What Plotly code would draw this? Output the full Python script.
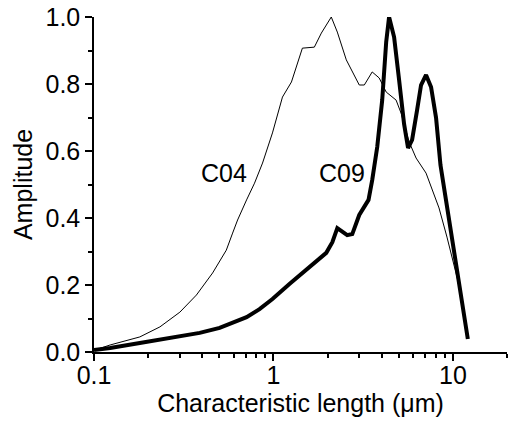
import math
import plotly.graph_objects as go

# C04 (thin line) — characteristic length (µm) and amplitude
c04_x = [0.100, 0.123, 0.180, 0.233, 0.301, 0.372, 0.458, 0.546, 0.592, 0.631, 0.708,
         0.784, 0.869, 0.987, 1.122, 1.259, 1.449, 1.689, 1.848, 2.099, 2.268, 2.545,
         3.005, 3.206, 3.548, 3.881, 4.245, 4.82, 5.14, 5.70, 6.23, 7.08, 8.36, 9.26,
         10.8, 12.1]
c04_y = [0.005, 0.021, 0.045, 0.075, 0.119, 0.170, 0.236, 0.304, 0.355, 0.394, 0.454,
         0.504, 0.564, 0.654, 0.761, 0.806, 0.907, 0.910, 0.952, 1.000, 0.955, 0.872,
         0.797, 0.797, 0.836, 0.818, 0.776, 0.752, 0.713, 0.627, 0.579, 0.534, 0.430,
         0.343, 0.200, 0.039]

# C09 (thick line)
c09_x = [0.100, 0.123, 0.180, 0.264, 0.388, 0.501, 0.592, 0.708, 0.836, 0.987, 1.227,
         1.449, 1.733, 1.968, 2.128, 2.268, 2.576, 2.748, 3.005, 3.384, 3.548, 3.784,
         4.034, 4.245, 4.406, 4.699, 5.01, 5.34, 5.62, 5.92, 6.31, 6.64, 7.08, 7.55,
         8.05, 8.52, 9.14, 10.8, 12.1]
c09_y = [0.006, 0.012, 0.027, 0.042, 0.057, 0.072, 0.087, 0.104, 0.128, 0.158, 0.203,
         0.236, 0.272, 0.296, 0.328, 0.370, 0.349, 0.352, 0.409, 0.454, 0.513, 0.612,
         0.752, 0.925, 1.000, 0.940, 0.812, 0.681, 0.609, 0.633, 0.722, 0.797, 0.827,
         0.791, 0.699, 0.558, 0.454, 0.215, 0.039]

labels = ["C04", "C09"]
label_x = [0.527, 2.42]
label_y = [0.534, 0.534]

x_major = [0.1, 1, 10]
x_major_text = ["0.1", "1", "10"]
x_minor = [0.2, 0.3, 0.4, 0.5, 0.6, 0.7, 0.8, 0.9, 2, 3, 4, 5, 6, 7, 8, 9, 20]
y_major = [0.0, 0.2, 0.4, 0.6, 0.8, 1.0]
y_major_text = ["0.0", "0.2", "0.4", "0.6", "0.8", "1.0"]
y_minor = [0.1, 0.3, 0.5, 0.7, 0.9]

FONT = "Liberation Sans, Arial, sans-serif"
FS = 25

fig = go.Figure()
fig.add_trace(go.Scatter(x=c04_x, y=c04_y, mode="lines",
                         line=dict(color="black", width=1), showlegend=False))
fig.add_trace(go.Scatter(x=c09_x, y=c09_y, mode="lines",
                         line=dict(color="black", width=4), showlegend=False))

for t, lx, ly in zip(labels, label_x, label_y):
    fig.add_annotation(x=math.log10(lx), y=ly, xref="x", yref="y", text=t,
                       showarrow=False,
                       font=dict(size=FS, color="black", family=FONT))

xr = [-1, math.log10(20)]
yr = [0, 1.0]

axis_common = dict(showgrid=False, zeroline=False, linecolor="black", linewidth=1.5,
                   tickcolor="black", tickwidth=1.5, automargin=False)

fig.update_layout(
    width=508, height=421,
    margin=dict(l=94, r=1, t=17, b=69),
    paper_bgcolor="white", plot_bgcolor="white",
    font=dict(family=FONT, size=FS, color="black"),
    xaxis=dict(type="log", range=xr, showline=True, ticks="outside", ticklen=7,
               tickmode="array", tickvals=x_major, ticktext=x_major_text,
               ticklabelstandoff=-7,
               minor=dict(ticks="outside", ticklen=4, tickmode="array", tickvals=x_minor,
                          tickcolor="black", tickwidth=1.5),
               title=dict(text="Characteristic length (\u03bcm)", standoff=2,
                          font=dict(size=FS)),
               tickfont=dict(size=FS), **axis_common),
    yaxis=dict(range=yr, showline=True, ticks="outside", ticklen=7,
               tickmode="array", tickvals=y_major, ticktext=y_major_text,
               minor=dict(ticks="outside", ticklen=4, tickmode="array", tickvals=y_minor,
                          tickcolor="black", tickwidth=1.5),
               title=dict(text="Amplitude", standoff=6, font=dict(size=FS)),
               tickfont=dict(size=FS), **axis_common),
    xaxis2=dict(type="log", range=xr, overlaying="x", side="top", showline=True,
                ticks="inside", ticklen=7, tickmode="array", tickvals=x_major,
                showticklabels=False,
                minor=dict(ticks="inside", ticklen=4, tickmode="array", tickvals=x_minor,
                           tickcolor="black", tickwidth=1.5),
                **axis_common),
    yaxis2=dict(range=yr, overlaying="y", side="right", showline=True,
                ticks="inside", ticklen=7, tickmode="array", tickvals=y_major,
                showticklabels=False,
                minor=dict(ticks="inside", ticklen=4, tickmode="array", tickvals=y_minor,
                           tickcolor="black", tickwidth=1.5),
                **axis_common),
)

fig.write_html("out.html", config={"displayModeBar": False},
               post_script="document.body.style.margin='0';document.body.style.overflow='hidden';")
